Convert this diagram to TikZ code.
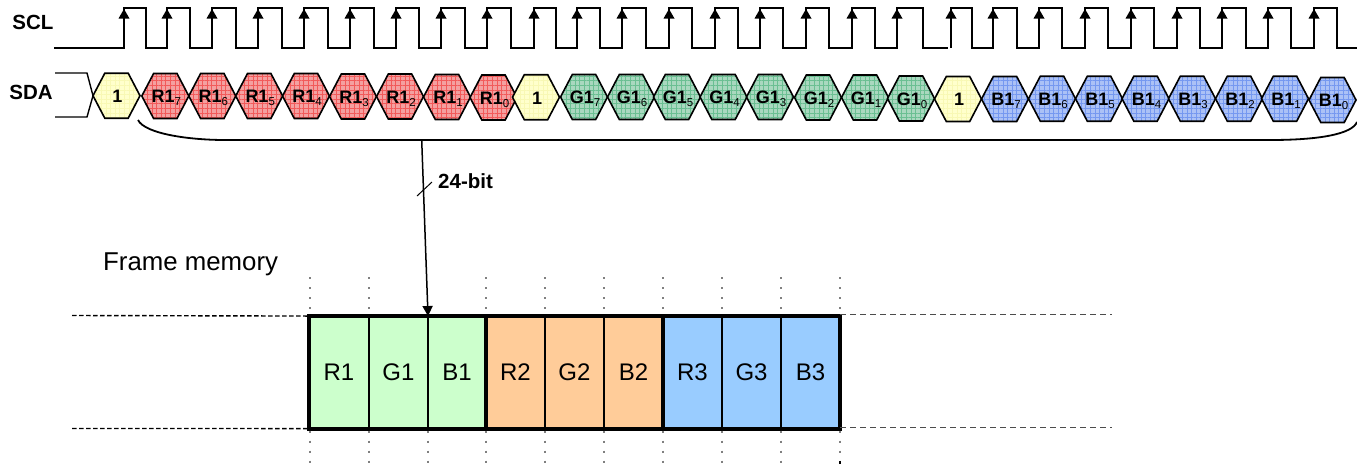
\documentclass[tikz,border=0pt]{standalone}
\usepackage{fontspec}
\setmainfont{Liberation Sans}
\usetikzlibrary{patterns.meta,arrows.meta}
\definecolor{redfill}{HTML}{F4A0A0}
\definecolor{redgrid}{HTML}{F25A5A}
\definecolor{greenfill}{HTML}{A9D8BF}
\definecolor{greengrid}{HTML}{6ABF92}
\definecolor{bluefill}{HTML}{ABC1F6}
\definecolor{bluegrid}{HTML}{7598F0}
\definecolor{yellowfill}{HTML}{FFFFCC}
\definecolor{yellowgrid}{HTML}{F8F8B4}
\definecolor{memgreen}{HTML}{CCFFCC}
\definecolor{memorange}{HTML}{FFCC99}
\definecolor{memblue}{HTML}{99CCFF}
\tikzset{
  x=1pt,y=-1pt,
  hexfill/.style n args={2}{draw=black,line width=1.6pt,line join=miter,
    preaction={fill=#1},
    preaction={pattern={Lines[angle=0,distance=4.6pt,line width=.45pt]},pattern color=#2},
    preaction={pattern={Lines[angle=90,distance=4.6pt,line width=.45pt]},pattern color=#2}},
  hexr/.style={hexfill={redfill}{redgrid}},
  hexg/.style={hexfill={greenfill}{greengrid}},
  hexb/.style={hexfill={bluefill}{bluegrid}},
  hexy/.style={hexfill={yellowfill}{yellowgrid}},
  hextext/.style={anchor=base,inner sep=0pt,text=black,font=\fontsize{18}{18}\selectfont\bfseries},
  siglabel/.style={font=\fontsize{20.5}{21}\selectfont\bfseries,inner sep=0pt},
  clockline/.style={line width=1.5pt,line join=miter,line cap=butt},
  cell/.style={shape=rectangle,draw=black,line width=1.6pt,minimum height=112.5pt,inner sep=0pt,outer sep=0pt,
    font=\fontsize{24}{24}\selectfont},
  frame/.style={draw=black,line width=4pt},
  guide/.style={draw=black!50,line width=2pt,dash pattern=on 2pt off 8pt},
  leftdash/.style={draw=black,line width=1.4pt,dash pattern=on 4.5pt off 2.5pt},
  rightdash/.style={draw=black!70,line width=1pt,dash pattern=on 6pt off 4pt},
}
\newcommand{\clk}[1]{\raisebox{-3pt}{\fontsize{11.5}{11.5}\selectfont\mdseries #1}}
\newcommand{\hexat}[5]{%
  \path[#1] (#3-23.5,#4) -- (#3-11.7,#4-22.5) -- (#3+11.7,#4-22.5) -- (#3+23.5,#4) -- (#3+11.7,#4+22.5) -- (#3-11.7,#4+22.5) -- cycle;
  \node[hextext] (#2) at (#3+1,#4+6.8) {#5};}
\begin{document}
\begin{tikzpicture}
\useasboundingbox (0,0) rectangle (1357,467);
\fill[white] (0,0) rectangle (1357,467);

% labels
\node[siglabel] (scl) at (33,22) {SCL};
\node[siglabel] (sda) at (31,92.5) {SDA};

% clock
\draw[clockline] (54,48)
\foreach \r/\f in {124/146,167/190,212/236,258/282,304/328,350/374,396/419,441/465,487/511,534/556,577/600,622/646,669/692,715/738,760/783,806/829,852/875,897/923}
{ -- (\r,48) -- (\r,8) -- (\f,8) -- (\f,48) } -- (948,48);
\draw[clockline] (951,48)
\foreach \r/\f in {951/972,993/1017,1039/1062,1085/1108,1131/1154,1177/1200,1222/1246,1268/1291,1314/1337}
{ -- (\r,48) -- (\r,8) -- (\f,8) -- (\f,48) } -- (1357,48);
\foreach \r in {124,167,212,258,304,350,396,441,487,534,577,622,669,715,760,806,852,897,951,993,1039,1085,1131,1177,1222,1268,1314}
  \fill (\r-5.5,18.5) -- (\r,9) -- (\r+5.5,18.5) -- cycle;

% hexagons
\hexat{hexy}{h1}{116.5}{95.7}{1}
\hexat{hexr}{h2}{165.3}{96}{R1\clk{7}}
\hexat{hexr}{h3}{212.3}{96}{R1\clk{6}}
\hexat{hexr}{h4}{259.2}{96}{R1\clk{5}}
\hexat{hexr}{h5}{306}{96}{R1\clk{4}}
\hexat{hexr}{h6}{353}{96.5}{R1\clk{3}}
\hexat{hexr}{h7}{400}{96.5}{R1\clk{2}}
\hexat{hexr}{h8}{447}{97}{R1\clk{1}}
\hexat{hexr}{h9}{493.5}{97.5}{R1\clk{0}}
\hexat{hexy}{h10}{536}{97.2}{1}
\hexat{hexg}{h11}{584}{97}{G1\clk{7}}
\hexat{hexg}{h12}{631}{97}{G1\clk{6}}
\hexat{hexg}{h13}{677}{97}{G1\clk{5}}
\hexat{hexg}{h14}{723.5}{97}{G1\clk{4}}
\hexat{hexg}{h15}{770}{97}{G1\clk{3}}
\hexat{hexg}{h16}{818}{97.5}{G1\clk{2}}
\hexat{hexg}{h17}{865}{97.5}{G1\clk{1}}
\hexat{hexg}{h18}{911}{98.5}{G1\clk{0}}
\hexat{hexy}{h19}{958}{99}{1}
\hexat{hexb}{h20}{1005}{99}{B1\clk{7}}
\hexat{hexb}{h21}{1052}{98.7}{B1\clk{6}}
\hexat{hexb}{h22}{1099}{98.7}{B1\clk{5}}
\hexat{hexb}{h23}{1145.5}{98.7}{B1\clk{4}}
\hexat{hexb}{h24}{1192}{98.7}{B1\clk{3}}
\hexat{hexb}{h25}{1239}{98.7}{B1\clk{2}}
\hexat{hexb}{h26}{1285}{98.7}{B1\clk{1}}
\hexat{hexb}{h27}{1332.5}{100}{B1\clk{0}}

% SDA lead-in
\coordinate (tip) at (93,95.7);
\draw[line width=1.4pt] (55,73) -- (87,73) -- (tip) -- (87,117) -- (55,117);

% brace
\coordinate (brL) at (138,120);
\coordinate (brR) at (1357,122);
\coordinate (brM) at (421.7,140);
\draw[line width=1.8pt] (brL) .. controls (145,134) and (190,140) .. (225,140) -- (1270,140) .. controls (1320,140) and (1352,134) .. (brR);

% memory cells
\node[cell,fill=memgreen,minimum width=59.5pt] (c1) at (339,372.3) {R1};
\node[cell,fill=memgreen,minimum width=59pt] (c2) at (398.5,372.3) {G1};
\node[cell,fill=memgreen,minimum width=58pt] (c3) at (457,372.3) {B1};
\node[cell,fill=memorange,minimum width=59pt] (c4) at (515.5,372.3) {R2};
\node[cell,fill=memorange,minimum width=59pt] (c5) at (574.5,372.3) {G2};
\node[cell,fill=memorange,minimum width=59pt] (c6) at (633.5,372.3) {B2};
\node[cell,fill=memblue,minimum width=59pt] (c7) at (692.5,372.3) {R3};
\node[cell,fill=memblue,minimum width=59pt] (c8) at (751.5,372.3) {G3};
\node[cell,fill=memblue,minimum width=59pt] (c9) at (810.5,372.3) {B3};
\draw[frame] (c1.north west) rectangle (c9.south east);
\draw[frame] (c3.north east) -- (c3.south east);
\draw[frame] (c6.north east) -- (c6.south east);

% guides
\draw[leftdash] (72,315.5) -- (c1.north west);
\draw[leftdash] (72,428.5) -- (c1.south west);
\coordinate (rt) at (1112,314.5);
\coordinate (rb) at (1112,427.5);
\draw[rightdash] (c9.north east |- rt) -- (rt);
\draw[rightdash] (c9.south east |- rb) -- (rb);
\foreach \x in {310,368.5,486,545,604,663,722,781,840}
  \draw[guide] (\x,277) -- (\x,309);
\foreach \x in {310,368.5,428,486,545,604,663,722,781,840}
  \draw[guide] (\x,430.5) -- (\x,463);
\fill (839,461) rectangle (841,464);

% arrow
\draw[line width=1.5pt,-{Stealth[length=10pt,width=10pt,inset=0pt]}] (brM) -- (c3.north west);
\coordinate (tickA) at (417,196);
\coordinate (tickB) at (432,182);
\draw[line width=1pt] (tickA) -- (tickB);
\node[font=\fontsize{20.5}{21}\selectfont\bfseries,anchor=west,inner sep=0pt] (bits) at (438,181) {24-bit};
\node[font=\fontsize{25.8}{26}\selectfont,anchor=base west,inner sep=0pt] (fm) at (103,270) {Frame memory};
\end{tikzpicture}
\end{document}
